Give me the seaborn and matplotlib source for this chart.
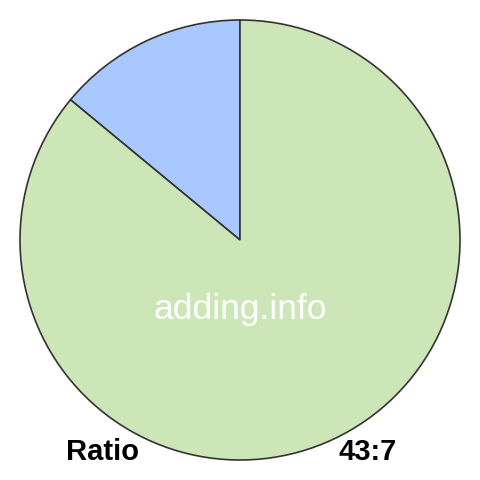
import matplotlib
matplotlib.use("Agg")
import matplotlib.pyplot as plt
import seaborn as sns

# DATA
labels = ['7', '43']
values = [7, 43]
colors = ['#a9c8fd', '#cde6b8']
left_label = 'Ratio'
right_label = '43:7'
watermark = 'adding.info'

sns.set_style('white')
plt.rcParams['font.family'] = ['Liberation Sans', 'DejaVu Sans']

fig = plt.figure(figsize=(4.8, 4.8), dpi=100)
ax = fig.add_axes([0, 0, 1, 1])

ax.pie(values, colors=colors, startangle=90, counterclock=True,
       radius=1.0, center=(0, 0),
       wedgeprops={'edgecolor': '#333333', 'linewidth': 1.2})

lim = 240 / 220
ax.set_xlim(-lim, lim)
ax.set_ylim(-lim, lim)
ax.set_aspect('equal')
ax.axis('off')

ax.text(0, -70 / 220, watermark, color='white', fontsize=25.5,
        ha='center', va='center')
ax.text((103 - 240) / 220, -(452 - 240) / 220, left_label, fontsize=21,
        fontweight='bold', color='black', ha='center', va='center')
ax.text((368 - 240) / 220, -(452 - 240) / 220, right_label, fontsize=21,
        fontweight='bold', color='black', ha='center', va='center')

fig.savefig('out.png', dpi=100)
